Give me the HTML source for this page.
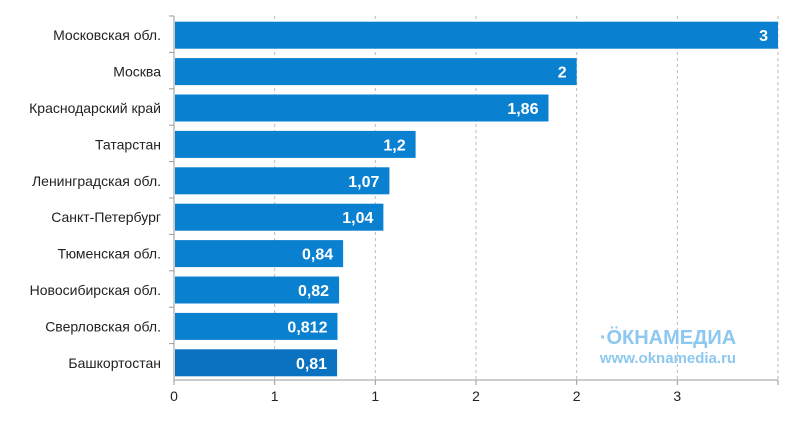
<!DOCTYPE html>
<html><head><meta charset="utf-8"><style>
body{margin:0;background:#fff;width:800px;height:418px;overflow:hidden;font-family:"Liberation Sans",sans-serif}
</style></head><body>
<svg id="chart" width="800" height="418" xmlns="http://www.w3.org/2000/svg"></svg>
<script>
const categories=["Московская обл.","Москва","Краснодарский край","Татарстан","Ленинградская  обл.","Санкт-Петербург","Тюменская обл.","Новосибирская обл.","Сверловская обл.","Башкортостан"];
const values=[3,2,1.86,1.2,1.07,1.04,0.84,0.82,0.812,0.81];
const valueLabels=["3","2","1,86","1,2","1,07","1,04","0,84","0,82","0,812","0,81"];
const ticks=[0,0.5,1,1.5,2,2.5,3];
const tickLabels=["0","1","1","2","2","3","3"];
const NS="http://www.w3.org/2000/svg";
const svg=document.getElementById('chart');
const x0=174,x1=778,yTop=16,yBottom=380;
const xs=v=>x0+(v/3)*(x1-x0);
const band=(yBottom-yTop)/categories.length;
function mk(t,a){const e=document.createElementNS(NS,t);for(const k in a)e.setAttribute(k,a[k]);svg.appendChild(e);return e;}
ticks.forEach((t,i)=>{
  const g=mk('line',{x1:xs(t),x2:xs(t),y1:yTop,y2:yBottom,stroke:'#bbb','stroke-dasharray':'3,3'});
  
  
  const tk=mk('line',{x1:xs(t),x2:xs(t),y1:yBottom,y2:yBottom+5,stroke:'#999'});
  
  
  if(i<6){
  const lb=mk('text',{x:xs(t),y:yBottom+21,'text-anchor':'middle','font-size':14,fill:'#222'});
  lb.textContent=tickLabels[i];
  
  
  }
});
const ax=mk('line',{x1:x0,x2:x1,y1:yBottom,y2:yBottom,stroke:'#999'});


const ay=mk('line',{x1:x0,x2:x0,y1:yTop,y2:yBottom,stroke:'#999'});


categories.forEach((c,i)=>{
  const yb=yTop+i*band;
  const t=mk('line',{x1:x0-5,x2:x0,y1:yb,y2:yb,stroke:'#999'});
  
  
  const bh=27, y=yb+(band-bh)/2+1;
  const r=mk('rect',{x:x0+1,y:y,width:xs(values[i])-x0-1,height:bh,fill:i===categories.length-1?'#0a72c0':'#0a80d0'});
  
  
  const v=mk('text',{x:xs(values[i])-10,y:y+bh/2+6,'text-anchor':'end','font-size':16,'font-weight':'bold',fill:'#fff'});
  v.textContent=valueLabels[i];
  
  
  const l=mk('text',{x:x0-13,y:y+bh/2+5,'text-anchor':'end','font-size':14,fill:'#222'});
  l.textContent=c;
  
  
});
const w1=mk('text',{x:668,y:344,'text-anchor':'middle','font-size':20,'font-weight':'bold',fill:'#8cc8f0'});
w1.textContent="·ÖКНАМЕДИА";


const w2=mk('text',{x:668,y:363,'text-anchor':'middle','font-size':15,'font-weight':'bold',fill:'#8cc8f0'});
w2.textContent="www.oknamedia.ru";


</script>
</body></html>
